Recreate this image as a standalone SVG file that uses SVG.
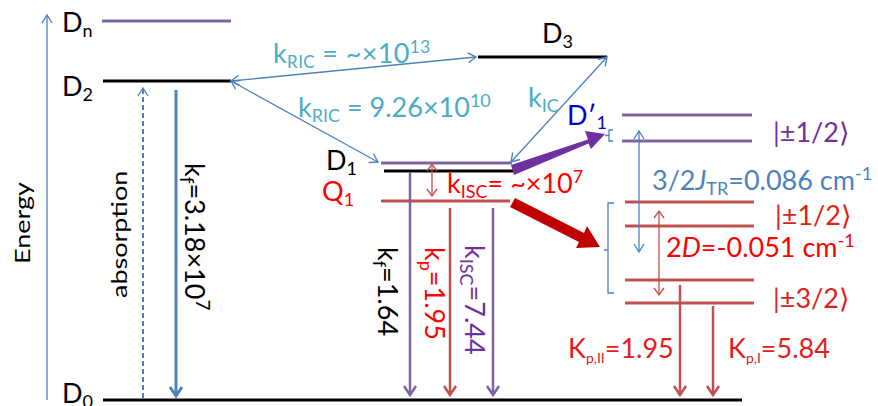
<svg xmlns="http://www.w3.org/2000/svg" width="878" height="406" viewBox="0 0 878 406">
<style>
text{font-family:Lato,"Liberation Sans",sans-serif;font-size:27px}
.k{fill:#000}
.cy{fill:#4bacc6}
.bl{fill:#4f81bd}
.rd{fill:#ff0000}
.dr{fill:#e0201c}
.pu{fill:#7030a0}
.db{fill:#0000cc}
.lvk{stroke:#000;stroke-width:3}
.lvp{stroke:#8064a2;stroke-width:3}
.lvr{stroke:#c0504d;stroke-width:3}
.thinb{stroke:#4f81bd;stroke-width:1.3;fill:none}
</style>
<defs>
<marker id="ob" viewBox="-10 -6 12 12" refX="0" refY="0" markerWidth="12" markerHeight="12" markerUnits="userSpaceOnUse" orient="auto-start-reverse">
<path d="M-8,-5 L0,0 L-8,5" fill="none" stroke="#4f81bd" stroke-width="1.4"/>
</marker>
<marker id="obt" viewBox="-12 -8 14 16" refX="0" refY="0" markerWidth="14" markerHeight="16" markerUnits="userSpaceOnUse" orient="auto-start-reverse">
<path d="M-9,-6 L0,0 L-9,6" fill="none" stroke="#4f81bd" stroke-width="3"/>
</marker>
<marker id="op" viewBox="-12 -8 14 16" refX="0" refY="0" markerWidth="14" markerHeight="16" markerUnits="userSpaceOnUse" orient="auto-start-reverse">
<path d="M-9,-6 L0,0 L-9,6" fill="none" stroke="#8064a2" stroke-width="2.5"/>
</marker>
<marker id="or" viewBox="-12 -8 14 16" refX="0" refY="0" markerWidth="14" markerHeight="16" markerUnits="userSpaceOnUse" orient="auto-start-reverse">
<path d="M-9,-6 L0,0 L-9,6" fill="none" stroke="#c0504d" stroke-width="2.5"/>
</marker>
<marker id="ors" viewBox="-10 -6 12 12" refX="0" refY="0" markerWidth="12" markerHeight="12" markerUnits="userSpaceOnUse" orient="auto-start-reverse">
<path d="M-7,-5 L0,0 L-7,5" fill="none" stroke="#c0504d" stroke-width="1.3"/>
</marker>
</defs>

<g id="axis">
<line x1="47" y1="400" x2="47" y2="15" class="thinb" marker-end="url(#ob)"/>
<text transform="translate(30,264) rotate(-90) scale(1,0.8)" class="k" font-size="32">Energy</text>
</g>

<g id="Dn"><line x1="102" y1="21" x2="231" y2="21" class="lvp"/><text x="62" y="32" class="k">D<tspan font-size="18" dy="5">n</tspan></text></g>
<g id="D2"><line x1="103" y1="81" x2="231" y2="81" class="lvk"/><text x="62" y="96" class="k">D<tspan font-size="18" dy="5">2</tspan></text></g>
<g id="D0"><line x1="103" y1="400" x2="742" y2="400" class="lvk"/><text x="62" y="403" class="k">D<tspan font-size="18" dy="5">0</tspan></text></g>
<g id="D3"><line x1="478" y1="57" x2="607" y2="57" class="lvk"/><text x="542" y="43" class="k">D<tspan font-size="18" dy="5">3</tspan></text></g>
<g id="D1">
<line x1="381" y1="163" x2="512" y2="163" class="lvp"/>
<line x1="384" y1="171" x2="513" y2="171" class="lvk"/>
<text x="326" y="170" class="k">D<tspan font-size="18" dy="5">1</tspan></text>
</g>
<g id="Q1"><line x1="381" y1="201" x2="510" y2="201" class="lvr"/><text x="322" y="201" class="rd">Q<tspan font-size="18" dy="5">1</tspan></text></g>

<g id="Dp1">
<line x1="622" y1="115" x2="752" y2="115" class="lvp"/>
<line x1="622" y1="141" x2="752" y2="141" class="lvp"/>
<path d="M613,130 H609 V141 H613 M609,135.5 H605" class="thinb"/>
<text x="567" y="125" class="db" font-size="28">D′<tspan font-size="18" dy="4">1</tspan></text>
<text x="773" y="142" class="pu" font-size="28">|±1/2⟩</text>
</g>

<g id="Q1split">
<line x1="625" y1="202" x2="754" y2="202" class="lvr"/>
<line x1="625" y1="226" x2="754" y2="226" class="lvr"/>
<line x1="625" y1="280" x2="754" y2="280" class="lvr"/>
<line x1="625" y1="303" x2="754" y2="303" class="lvr"/>
<path d="M614,203 H608 V293 H614 M608,250 H604" class="thinb"/>
<text x="775" y="225" class="dr" font-size="27">|±1/2⟩</text>
<text x="773" y="308" class="dr" font-size="28">|±3/2⟩</text>
</g>

<g id="connectors">
<line x1="143" y1="398" x2="143" y2="88" stroke="#4f81bd" stroke-width="2" stroke-dasharray="5,3" fill="none" marker-end="url(#ob)"/>
<line x1="176" y1="90" x2="176" y2="396" stroke="#4f81bd" stroke-width="3" marker-end="url(#obt)"/>
<line x1="231" y1="81" x2="476" y2="57" class="thinb" marker-start="url(#ob)" marker-end="url(#ob)"/>
<line x1="231" y1="81" x2="378" y2="162" class="thinb" marker-start="url(#ob)" marker-end="url(#ob)"/>
<line x1="607" y1="57" x2="511" y2="162" class="thinb" marker-start="url(#ob)" marker-end="url(#ob)"/>
<line x1="432" y1="164" x2="432" y2="196" stroke="#c0504d" stroke-width="1.3" marker-start="url(#ors)" marker-end="url(#ors)"/>
<line x1="410" y1="172" x2="410" y2="395" stroke="#8064a2" stroke-width="2.5" marker-end="url(#op)"/>
<line x1="450" y1="208" x2="450" y2="395" stroke="#c0504d" stroke-width="2.5" marker-end="url(#or)"/>
<line x1="493" y1="208" x2="493" y2="395" stroke="#8064a2" stroke-width="2.5" marker-end="url(#op)"/>
<polygon points="511,165 588,139.5 585,131 605,134 591,149 588.5,143.5 514,175" fill="#7030a0"/>
<polygon points="515,198 584,233 587,226 600,247 576,248 579,242 510,207" fill="#c00000"/>
<line x1="639" y1="131" x2="639" y2="252" class="thinb" marker-start="url(#ob)" marker-end="url(#ob)"/>
<line x1="659" y1="211" x2="659" y2="295" stroke="#c0504d" stroke-width="1.3" marker-start="url(#ors)" marker-end="url(#ors)"/>
<line x1="680" y1="285" x2="680" y2="395" stroke="#c0504d" stroke-width="2.5" marker-end="url(#or)"/>
<line x1="713" y1="306" x2="713" y2="395" stroke="#c0504d" stroke-width="2.5" marker-end="url(#or)"/>
</g>

<g id="labels">
<text transform="translate(127,298) rotate(-90) scale(1,0.8)" class="k" font-size="31">absorption</text>
<text transform="translate(185,163) rotate(90)" class="k" font-size="29">k<tspan font-size="19" dy="5">f</tspan><tspan dy="-5">=3.18×10</tspan><tspan font-size="19" dy="-11">7</tspan></text>
<text x="273" y="63" class="cy" font-size="26" textLength="157" lengthAdjust="spacing">k<tspan font-size="17" dy="5">RIC</tspan><tspan dy="-5"> = ~×10</tspan><tspan font-size="17" dy="-10">13</tspan></text>
<text x="298" y="117" class="cy" font-size="27.5">k<tspan font-size="18" dy="5">RIC</tspan><tspan dy="-5"> = 9.26×10</tspan><tspan font-size="18" dy="-10">10</tspan></text>
<text x="528" y="107" class="cy">k<tspan font-size="18" dy="5">IC</tspan></text>
<text x="447" y="193" class="rd">k<tspan font-size="18" dy="5">ISC</tspan><tspan dy="-5">= ~×10</tspan><tspan font-size="18" dy="-10">7</tspan></text>
<text transform="translate(378,247) rotate(90)" class="k" font-size="27.5">k<tspan font-size="18" dy="5">f</tspan><tspan dy="-5">=1.64</tspan></text>
<text transform="translate(425,247) rotate(90)" class="rd" font-size="27.5">k<tspan font-size="18" dy="5">p</tspan><tspan dy="-5">=1.95</tspan></text>
<text transform="translate(465,245) rotate(90)" class="pu" font-size="27.5">k<tspan font-size="18" dy="5">ISC</tspan><tspan dy="-5">=7.44</tspan></text>
<text x="652" y="190" class="bl" font-size="28">3/2<tspan font-style="italic">J</tspan><tspan font-size="18" dy="5">TR</tspan><tspan dy="-5">=0.086 cm</tspan><tspan font-size="18" dy="-10">-1</tspan></text>
<text x="666" y="257" class="rd" font-size="28">2<tspan font-style="italic">D</tspan>=-0.051 cm<tspan font-size="18" dy="-10">-1</tspan></text>
<text x="568" y="358" class="dr" font-size="21">K<tspan font-size="14" dy="5">p,II</tspan><tspan dy="-5">=1.95</tspan></text>
<text x="728" y="358" class="dr" font-size="21">K<tspan font-size="14" dy="5">p,I</tspan><tspan dy="-5">=5.84</tspan></text>
</g>
</svg>
